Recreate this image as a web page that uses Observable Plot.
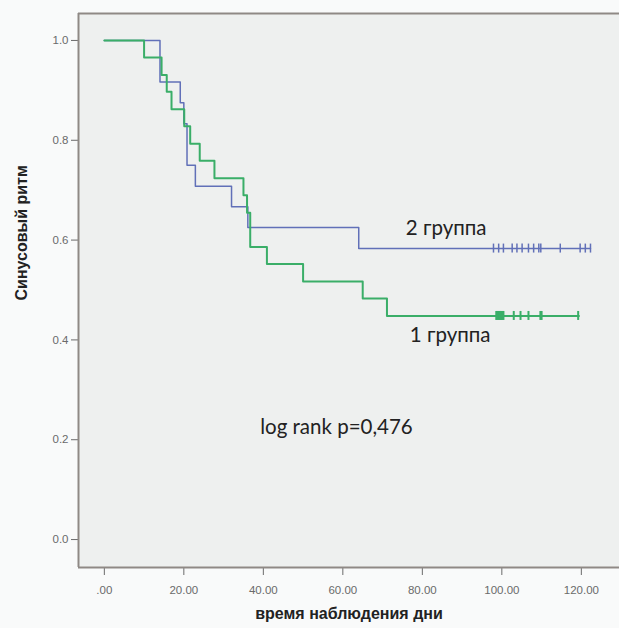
<!DOCTYPE html>
<html><head><meta charset="utf-8">
<script src="https://cdn.jsdelivr.net/npm/d3@7"></script>
<script src="https://cdn.jsdelivr.net/npm/@observablehq/plot@0.6"></script>
<style>body{margin:0;background:#f9fafa;}</style>
</head><body><div id="chart"></div>
<script>
// Kaplan–Meier step curves
const group1Time = [0, 10, 14.4, 15.7, 16.9, 20.1, 21.6, 24.0, 27.7, 35.0, 35.9, 36.7, 40.9, 50.0, 65.0, 71.1, 119.4];
const group1Surv = [1.0, 0.966, 0.931, 0.897, 0.862, 0.828, 0.793, 0.759, 0.724, 0.690, 0.655, 0.586, 0.552, 0.517, 0.483, 0.448, 0.448];
const group2Time = [0, 14.0, 19.1, 20.0, 20.8, 22.9, 32.0, 36.1, 64.0, 122.3];
const group2Surv = [1.0, 0.917, 0.875, 0.833, 0.750, 0.708, 0.667, 0.625, 0.583, 0.583];
// censored observations (times) and their level
const group1Censor = [98.6, 98.9, 99.2, 99.5, 99.8, 100.1, 100.4, 103.0, 104.7, 106.7, 109.7, 110.0, 119.2];
const group1CensorLevel = 0.448;
const group2Censor = [97.9, 99.2, 100.4, 102.6, 103.8, 105.1, 106.7, 108.0, 109.3, 109.8, 114.7, 119.7, 121.0, 122.3];
const group2CensorLevel = 0.583;
const xTicks = [0, 20, 40, 60, 80, 100, 120];
const yTicks = [0, 0.2, 0.4, 0.6, 0.8, 1.0];
const groupNames = ["1 группа", "2 группа"];
const xTitle = "время наблюдения дни";
const yTitle = "Синусовый ритм";
const statText = "log rank p=0,476";

const g1 = group1Time.map((t, i) => ({t, s: group1Surv[i]}));
const g2 = group2Time.map((t, i) => ({t, s: group2Surv[i]}));
const c1 = group1Censor.map(t => ({t, s: group1CensorLevel}));
const c2 = group2Censor.map(t => ({t, s: group2CensorLevel}));

const green = "#3aae68", blue = "#6170b8", frameCol = "#8f8985";
const labelFont = "Lato, 'Open Sans', sans-serif";

const chart = Plot.plot({
  width: 619, height: 628,
  marginLeft: 78, marginRight: 0, marginTop: 13, marginBottom: 61,
  x: {domain: [-6.5, 129.6]},
  y: {domain: [-0.056, 1.054]},
  style: {background: "#f9fafa", fontFamily: "'Liberation Sans', Arial, sans-serif"},
  marks: [
    Plot.frame({fill: "#eef0ef", stroke: null}),
    Plot.axisX({ticks: xTicks, tickFormat: d => d === 0 ? ".00" : d.toFixed(2), tickSize: 8, tickPadding: 10, label: null, fontSize: 11.5, color: "#6a6a6a"}),
    Plot.axisY({ticks: yTicks, tickFormat: d => d.toFixed(1), tickSize: 7, tickPadding: 3, label: null, fontSize: 11.5, color: "#6a6a6a"}),
    Plot.ruleX([-6.5], {stroke: frameCol, strokeWidth: 2}),
    Plot.ruleY([-0.056, 1.054], {stroke: frameCol, strokeWidth: 2}),
    Plot.line(g2, {x: "t", y: "s", curve: "step-after", stroke: blue, strokeWidth: 1.5}),
    Plot.line(g1, {x: "t", y: "s", curve: "step-after", stroke: green, strokeWidth: 2}),
    Plot.ruleX(c2, {x: "t", y1: d => d.s - 0.009, y2: d => d.s + 0.009, stroke: blue, strokeWidth: 1.5}),
    Plot.ruleX(c1, {x: "t", y1: d => d.s - 0.009, y2: d => d.s + 0.009, stroke: green, strokeWidth: 2}),
    Plot.text([groupNames[1]], {x: 86, y: 0.623, text: d => d, fontSize: 20.5, fill: "#222", fontFamily: labelFont}),
    Plot.text([groupNames[0]], {x: 87, y: 0.409, text: d => d, fontSize: 20.5, fill: "#222", fontFamily: labelFont}),
    Plot.text([statText], {x: 58.4, y: 0.224, text: d => d, fontSize: 20.5, fill: "#222", fontFamily: labelFont}),
    Plot.text([xTitle], {frameAnchor: "bottom", dy: 51, text: d => d, fontSize: 16, fontWeight: "bold", fill: "#222"}),
    Plot.text([yTitle], {frameAnchor: "left", dx: -57, dy: 10, rotate: -90, text: d => d, fontSize: 16, fontWeight: "bold", fill: "#222"})
  ]
});
document.getElementById("chart").appendChild(chart);
</script>
</body></html>
